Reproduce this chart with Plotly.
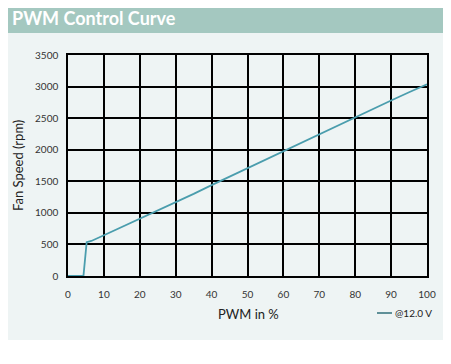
import plotly.graph_objects as go

# Data
pwm_percent = [0, 4.3, 5.2, 6.5, 10, 15, 20, 25, 30, 35, 40, 45, 50, 55, 60,
               65, 70, 75, 80, 85, 90, 95, 100]
fan_rpm = [0, 0, 535, 555, 645, 775, 905, 1035, 1170, 1300, 1440, 1575, 1710,
           1845, 1980, 2115, 2250, 2385, 2515, 2645, 2780, 2910, 3035]
x_ticks = [0, 10, 20, 30, 40, 50, 60, 70, 80, 90, 100]
y_ticks = [0, 500, 1000, 1500, 2000, 2500, 3000, 3500]
series_name = "@12.0 V"
chart_title = "PWM Control Curve"

OFF = 8  # page body margin
W, H = 451 - OFF, 364 - OFF
# plot area in page pixels, converted to figure pixels
L, R, T, B = 68 - OFF, 427 - OFF, 55 - OFF, 276 - OFF
pw, ph = R - L, B - T


def px(x):
    return (x - OFF - L) / pw


def py(y):
    return (B - (y - OFF)) / ph


line_color = "#4a9dad"
font_family = "Lato, 'Open Sans', sans-serif"

fig = go.Figure()
fig.add_trace(go.Scatter(x=pwm_percent, y=fan_rpm, mode="lines", name=series_name,
                         line=dict(color=line_color, width=1.8), showlegend=False))

shapes = [
    dict(type="rect", xref="paper", yref="paper", x0=px(0), x1=px(460), y0=py(340), y1=py(0),
         fillcolor="#eef4f4", line=dict(width=0), layer="below"),
    dict(type="rect", xref="paper", yref="paper", x0=px(0), x1=px(460), y0=py(33), y1=py(0),
         fillcolor="#a4c8c0", line=dict(width=0), layer="below"),
    dict(type="line", xref="paper", yref="paper", x0=px(377), x1=px(392), y0=py(313), y1=py(313),
         line=dict(color="#2f6f7a", width=1.5)),
]

annotations = [
    dict(text=chart_title, xref="paper", yref="paper", x=px(10), y=py(18), xanchor="left",
         yanchor="middle", showarrow=False,
         font=dict(family="Lato, sans-serif", size=18, color="white", weight="bold")),
    dict(text="Fan Speed (rpm)", xref="paper", yref="paper", x=px(18), y=py(166), textangle=-90,
         xanchor="center", yanchor="middle", showarrow=False,
         font=dict(family=font_family, size=13, color="#222")),
    dict(text="PWM in %", xref="paper", yref="paper", x=px(248), y=py(314),
         xanchor="center", yanchor="middle", showarrow=False,
         font=dict(family=font_family, size=13, color="#222")),
    dict(text=series_name, xref="paper", yref="paper", x=px(393), y=py(313),
         xanchor="left", yanchor="middle", showarrow=False,
         font=dict(family=font_family, size=10, color="#222")),
]

fig.update_layout(
    width=W, height=H,
    margin=dict(l=L, r=W - R, t=T, b=H - B, pad=0),
    paper_bgcolor="white",
    plot_bgcolor="white",
    shapes=shapes,
    annotations=annotations,
    showlegend=False,
    font=dict(family=font_family, size=10, color="#333"),
)
fig.update_xaxes(range=[0, 100], tickvals=x_ticks, showgrid=True, gridcolor="black",
                 gridwidth=1.5, showline=True, linecolor="black", linewidth=1.5,
                 mirror=True, zeroline=False, ticks="", ticklabelstandoff=8,
                 tickfont=dict(size=10, color="#333"), fixedrange=True)
fig.update_yaxes(range=[0, 3500], tickvals=y_ticks, showgrid=True, gridcolor="black",
                 gridwidth=1.5, showline=True, linecolor="black", linewidth=1.5,
                 mirror=True, zeroline=False, ticks="", ticklabelstandoff=6,
                 tickfont=dict(size=10, color="#333"), fixedrange=True)

fig.write_html("out.html")
